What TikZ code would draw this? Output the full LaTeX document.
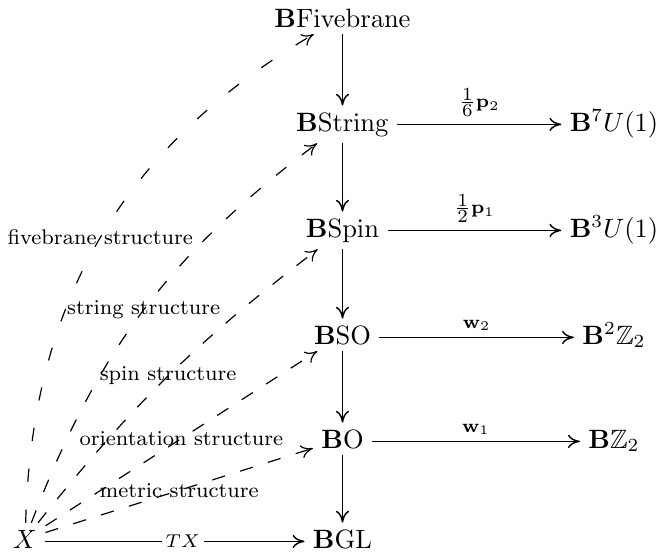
\documentclass[tikz,border=0pt]{standalone}
\usepackage{amssymb}
\usetikzlibrary{arrows.meta}
\begin{document}
\begin{tikzpicture}[x=0.37736pt,y=-0.37736pt,
  obj/.style={anchor=base, inner xsep=3pt, inner ysep=2.5pt},
  arr/.style={line width=0.55pt, -{To[length=4.5pt,width=5pt]}},
  dasharr/.style={arr, line width=0.45pt},
  lab/.style={font=\footnotesize, inner sep=0pt},
  mlab/.style={above, inner sep=2.2pt, midway}]
\useasboundingbox (0,0) rectangle (657,552);
% objects
\node[obj] (X)   at (25,548)    {$X$};
\node[obj] (BF)  at (342.5,27)  {$\mathbf{B}\mathrm{Fivebrane}$};
\node[obj] (BS)  at (342.5,131) {$\mathbf{B}\mathrm{String}$};
\node[obj] (BP)  at (342.5,237) {$\mathbf{B}\mathrm{Spin}$};
\node[obj] (BSO) at (342.5,344) {$\mathbf{B}\mathrm{SO}$};
\node[obj] (BO)  at (342.5,448) {$\mathbf{B}\mathrm{O}$};
\node[obj] (BGL) at (342.5,548) {$\mathbf{B}\mathrm{GL}$};
\node[obj] (B7)  at (614,131)   {$\mathbf{B}^7U(1)$};
\node[obj] (B3)  at (614,237)   {$\mathbf{B}^3U(1)$};
\node[obj] (B2)  at (614,344)   {$\mathbf{B}^2\mathbb{Z}_2$};
\node[obj] (B1)  at (614,448)   {$\mathbf{B}\mathbb{Z}_2$};
% vertical tower
\draw[arr] (BF) -- (BS);
\draw[arr] (BS) -- (BP);
\draw[arr] (BP) -- (BSO);
\draw[arr] (BSO) -- (BO);
\draw[arr] (BO) -- (BGL);
% horizontal maps
\draw[arr] ([yshift=2.5pt]BS.base east) -- node[mlab, inner sep=2.8pt]{$\scriptstyle\frac{\scriptstyle 1}{\scriptstyle 6}\mathbf{p}_2$} ([yshift=2.5pt]B7.base west);
\draw[arr] ([yshift=2.5pt]BP.base east) -- node[mlab, inner sep=2.8pt]{$\scriptstyle\frac{\scriptstyle 1}{\scriptstyle 2}\mathbf{p}_1$} ([yshift=2.5pt]B3.base west);
\draw[arr] ([yshift=2.5pt]BSO.base east) -- node[mlab]{$\scriptstyle\mathbf{w}_2$} ([yshift=2.5pt]B2.base west);
\draw[arr] ([yshift=2.5pt]BO.base east) -- node[mlab]{$\scriptstyle\mathbf{w}_1$} ([yshift=2.5pt]B1.base west);
\draw[arr] ([yshift=2.5pt]X.base east) -- node[pos=0.53, fill=white, inner sep=1.5pt]{$\scriptstyle TX$} ([yshift=2.5pt]BGL.base west);
% structures
\draw[dasharr, dash pattern=on 5pt off 6pt] (X) to node[lab]{metric structure} (BO);
\draw[dasharr, dash pattern=on 5pt off 6pt] (X) to node[lab]{orientation structure} (BSO);
\draw[dasharr, dash pattern=on 5pt off 6.5pt] (X) to[bend left=7] node[lab]{spin structure} (BP);
\draw[dasharr, dash pattern=on 5pt off 7.5pt] (X) to[bend left=16] node[lab]{string structure} (BS);
\draw[dasharr, dash pattern=on 5pt off 10.5pt] (X) to[bend left=29] node[lab]{fivebrane structure} (BF);
\end{tikzpicture}
\end{document}
